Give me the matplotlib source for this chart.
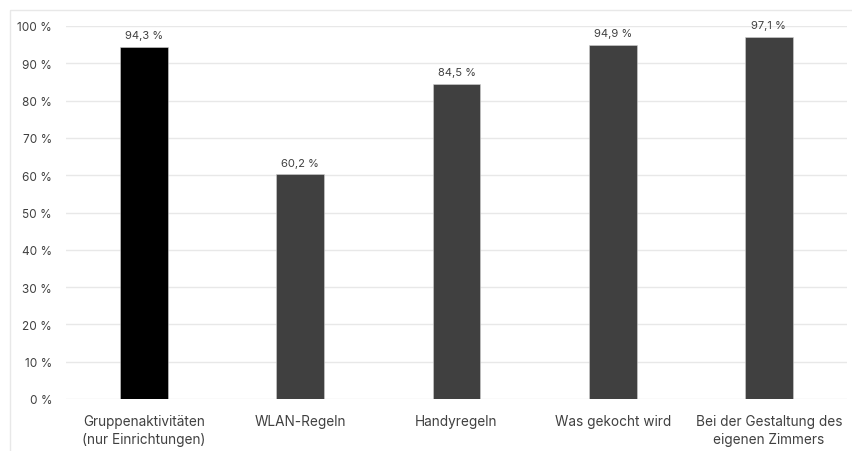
import matplotlib.pyplot as plt
from matplotlib.patches import Rectangle

categories = ['Gruppenaktivitäten\n(nur Einrichtungen)', 'WLAN-Regeln', 'Handyregeln',
              'Was gekocht wird', 'Bei der Gestaltung des\neigenen Zimmers']
values = [94.3, 60.2, 84.5, 94.9, 97.1]
colors = ['#000000', '#404040', '#404040', '#404040', '#404040']
ticks = list(range(0, 101, 10))

plt.rcParams['font.family'] = ['Inter', 'DejaVu Sans']
text_color = '#404040'

fig = plt.figure(figsize=(8.53, 4.52), dpi=100)
ax = fig.add_axes([66 / 853, 1 - 400 / 452, (847 - 66) / 853, (400 - 27) / 452])

x = list(range(len(values)))
bars = ax.bar(x, values, width=0.307, color=colors, edgecolor='#d0d0d0', linewidth=0.4, zorder=3)
for xi, v in zip(x, values):
    ax.annotate(f'{v:.1f} %'.replace('.', ','), (xi, v), xytext=(0, 5),
                textcoords='offset points', ha='center', va='bottom',
                fontsize=8, color=text_color)

ax.set_xlim(-0.5, len(values) - 0.5)
ax.set_ylim(0, 100)
ax.set_yticks(ticks)
ax.set_yticklabels([f'{t} %' for t in ticks], fontsize=8.5, color=text_color)
ax.set_xticks(x)
ax.set_xticklabels(categories, fontsize=9.8, color=text_color, linespacing=1.35)
ax.tick_params(axis='both', length=0)
ax.tick_params(axis='y', pad=10)
ax.tick_params(axis='x', pad=11)
ax.grid(axis='y', color='#e8e8e8', linewidth=1, zorder=0)
for s in ax.spines.values():
    s.set_visible(False)

# light frame around the chart area
fig.patches.append(Rectangle((10 / 853, -0.1), 1.2, 1 - 11 / 452 + 0.1,
                             transform=fig.transFigure, fill=False,
                             edgecolor='#e8e8e8', linewidth=1))

fig.savefig('out.png', dpi=100)
